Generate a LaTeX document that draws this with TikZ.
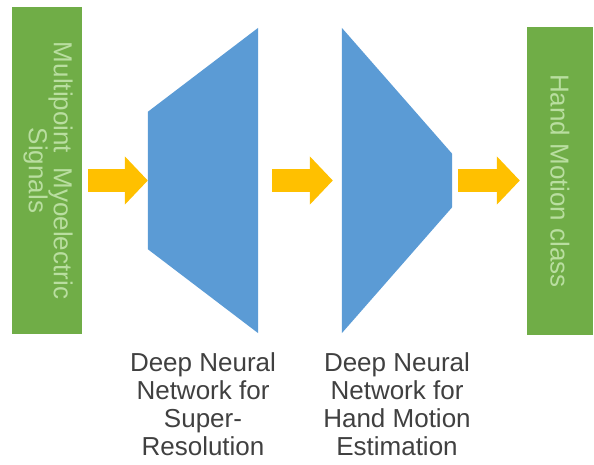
\documentclass[tikz,border=0pt]{standalone}
\usepackage{fontspec}
\setmainfont{Liberation Sans}
\usepackage{graphicx}
\usetikzlibrary{arrows.meta}
\definecolor{boxgreen}{HTML}{70AD47}
\definecolor{txtgreen}{RGB}{185,222,160}
\definecolor{netblue}{HTML}{5B9BD5}
\definecolor{arrgold}{HTML}{FFC000}
\definecolor{lblgray}{HTML}{404040}
\begin{document}
\begin{tikzpicture}[x=1pt, y=-1pt,
  every node/.style={font=\fontsize{26}{28}\selectfont},
  gbox/.style={draw=none, fill=boxgreen, text=txtgreen, inner sep=0pt},
  net/.style={inner sep=0pt, minimum width=110pt, minimum height=305pt},
  lbl/.style={align=center, anchor=north, text=lblgray, inner sep=0pt},
  fat/.style={arrgold, line width=23pt,
    -{Triangle[width=47pt, length=23pt]}}
]
\useasboundingbox (0,0) rectangle (594,464);
\node[gbox, minimum width=70pt, minimum height=327pt] (sig) at (47,170.5)
  {\rotatebox{-90}{\begin{tabular}{@{}c@{}}Multipoint~~Myoelectric\\[-3pt]Signals\end{tabular}}};
\node[net] (dnn1) at (203,180.5) {};
\node[net] (dnn2) at (397,180.5) {};
\node[gbox, minimum width=66pt, minimum height=308pt] (cls) at (560,181)
  {\rotatebox{-90}{Hand Motion class}};
% the two networks: widening and narrowing
\fill[netblue] (dnn1.north east) -- (dnn1.south east)
  -- ([yshift=84pt]dnn1.south west) -- ([yshift=-84pt]dnn1.north west) -- cycle;
\fill[netblue] (dnn2.north west) -- (dnn2.south west)
  -- ([yshift=126pt]dnn2.south east) -- ([yshift=-126pt]dnn2.north east) -- cycle;
\draw[fat] ([xshift=6pt]sig.east |- dnn1.west) -- (dnn1.west);
\draw[fat, shorten <=14pt, shorten >=9pt] (dnn1.east) -- (dnn2.west);
\draw[fat, shorten <=6pt, shorten >=7pt] (dnn2.east) -- (cls.west |- dnn2.east);
\node[lbl] (lbl1) at (203,352)
  {Deep Neural\\Network for\\Super-\\Resolution};
\node[lbl] (lbl2) at (397,352)
  {Deep Neural\\Network for\\Hand Motion\\Estimation};
\end{tikzpicture}
\end{document}
